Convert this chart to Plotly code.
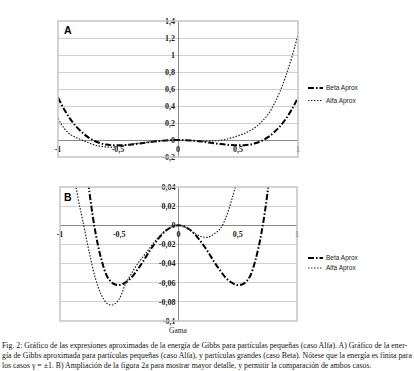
import plotly.graph_objects as go

gamma = [-1.00, -0.95, -0.90, -0.85, -0.80, -0.75, -0.70, -0.65, -0.60, -0.55, -0.50,
         -0.45, -0.40, -0.35, -0.30, -0.25, -0.20, -0.15, -0.10, -0.05, 0.00,
         0.05, 0.10, 0.15, 0.20, 0.25, 0.30, 0.35, 0.40, 0.45, 0.50,
         0.55, 0.60, 0.65, 0.70, 0.75, 0.80, 0.85, 0.90, 0.95, 1.00]

beta = [0.500, 0.364, 0.251, 0.161, 0.090, 0.033, -0.008, -0.036, -0.054, -0.061, -0.0625,
        -0.060, -0.055, -0.047, -0.038, -0.028, -0.019, -0.011, -0.005, -0.0013, 0.000,
        -0.0013, -0.005, -0.011, -0.019, -0.028, -0.038, -0.047, -0.055, -0.060, -0.0625,
        -0.061, -0.054, -0.036, -0.008, 0.033, 0.090, 0.161, 0.251, 0.364, 0.500]

alfa = [0.255, 0.140, 0.068, 0.030, 0.000, -0.030, -0.056, -0.073, -0.082, -0.083, -0.077,
        -0.062, -0.051, -0.041, -0.033, -0.025, -0.017, -0.010, -0.0045, -0.0012, 0.000,
        -0.0015, -0.0055, -0.0095, -0.012, -0.0125, -0.009, -0.004, 0.008, 0.027, 0.050,
        0.075, 0.110, 0.155, 0.220, 0.300, 0.420, 0.570, 0.760, 0.980, 1.240]

series_names = ["Beta Aprox", "Alfa Aprox"]
x_ticks = [-1, -0.5, 0, 0.5, 1]
x_labels = ["-1", "-0,5", "0", "0,5", "1"]
ya_ticks = [-0.2, 0, 0.2, 0.4, 0.6, 0.8, 1.0, 1.2, 1.4]
ya_labels = ["-0,2", "0", "0,2", "0,4", "0,6", "0,8", "1", "1,2", "1,4"]
yb_ticks = [-0.1, -0.08, -0.06, -0.04, -0.02, 0, 0.02, 0.04]
yb_labels = ["-0,1", "-0,08", "-0,06", "-0,04", "-0,02", "0", "0,02", "0,04"]

W, H = 414, 371
def px(x):
    return x / W
def py(y):
    return 1 - y / H

beta_style = dict(color="black", width=2, dash="6px,2px,1.5px,2px")
alfa_style = dict(color="#222222", width=1.2, dash="1.5px,1.5px")
styles = [beta_style, alfa_style]

fig = go.Figure()
for xa, ya in (("x", "y"), ("x2", "y2")):
    for name, vals, st in zip(series_names, [beta, alfa], styles):
        fig.add_trace(go.Scatter(x=gamma, y=vals, mode="lines", name=name, line=st,
                                 line_shape="spline", xaxis=xa, yaxis=ya, showlegend=False,
                                 hoverinfo="skip"))

tickfont = dict(family="Liberation Serif", size=8, color="#1a1a1a", weight="bold")
grid = "#d0d0d0"
axisc = "#8a8a8a"

axl, axr, aty, aby = 58, 298, 21, 157
bxl, bxr, bty, bby = 60, 297, 187, 321
y0a = aty + (aby - aty) * 1.4 / 1.6
y0b = bty + (bby - bty) * 0.04 / 0.14

def xax(dom, pos):
    return dict(domain=dom, range=[-1, 1], anchor="free", position=pos, color="#1a1a1a",
                tickvals=x_ticks, ticktext=x_labels, tickfont=tickfont, showgrid=False,
                zeroline=True, zerolinecolor=axisc, zerolinewidth=1, showline=False, ticks="",
                ticklabelstandoff=3, fixedrange=True)

def yax(dom, rng, pos, tv, tt):
    return dict(domain=dom, range=rng, anchor="free", position=pos, color="#1a1a1a",
                tickvals=tv, ticktext=tt, tickfont=tickfont, showgrid=True,
                gridcolor=grid, gridwidth=1, zeroline=True, zerolinecolor=axisc, zerolinewidth=1,
                showline=False, ticks="", ticklabelstandoff=3, fixedrange=True)

fig.update_layout(
    template="none",
    width=W, height=H,
    margin=dict(l=0, r=0, t=0, b=0),
    paper_bgcolor="white", plot_bgcolor="white",
    showlegend=False,
    hovermode=False,
    xaxis=xax([px(axl), px(axr)], py(y0a)),
    yaxis=yax([py(aby), py(aty)], [-0.2, 1.4], px((axl + axr) / 2), ya_ticks, ya_labels),
    xaxis2=xax([px(bxl), px(bxr)], py(y0b)),
    yaxis2=yax([py(bby), py(bty)], [-0.1, 0.04], px((bxl + bxr) / 2), yb_ticks, yb_labels),
)

for xr, yr in (("x domain", "y domain"), ("x2 domain", "y2 domain")):
    fig.add_shape(type="rect", xref=xr, yref=yr, x0=0, x1=1, y0=0, y1=1,
                  line=dict(color="#c4c4c4", width=1.5), layer="above")

# legends (sample line + label) for both panels
legend_rows = [(88, 100.5), (258, 268)]
for rows in legend_rows:
    for name, st, yy in zip(series_names, styles, rows):
        fig.add_shape(type="line", xref="paper", yref="paper", x0=px(308), x1=px(323),
                      y0=py(yy), y1=py(yy), line=st)
        fig.add_annotation(text=name, xref="paper", yref="paper", x=px(324), y=py(yy),
                           xanchor="left", yanchor="middle", showarrow=False,
                           font=dict(family="Liberation Sans", size=6.5, color="#222222"))

fig.add_annotation(text="<b>A</b>", xref="paper", yref="paper", x=px(68), y=py(30),
                   xanchor="center", yanchor="middle", showarrow=False,
                   font=dict(family="Liberation Sans", size=10.5, color="black"))
fig.add_annotation(text="<b>B</b>", xref="paper", yref="paper", x=px(68), y=py(197),
                   xanchor="center", yanchor="middle", showarrow=False,
                   font=dict(family="Liberation Sans", size=10.5, color="black"))
fig.add_annotation(text="Gama", xref="paper", yref="paper", x=px(178), y=py(330),
                   xanchor="center", yanchor="middle", showarrow=False,
                   font=dict(family="Liberation Serif", size=7.5, color="#222222"))

caption = [
    "Fig. 2: Gráfico de las expresiones aproximadas de la energía de Gibbs para partículas pequeñas (caso Alfa). A) Gráfico de la ener-",
    "gía de Gibbs aproximada para partículas pequeñas (caso Alfa), y partículas grandes (caso Beta). Nótese que la energía es finita para",
    "los casos γ = ±1. B) Ampliación de la figura 2a para mostrar mayor detalle, y permitir la comparación de ambos casos.",
]
for i, line in enumerate(caption):
    fig.add_annotation(text=line, xref="paper", yref="paper", x=0, y=py(345.5 + 10 * i),
                       xanchor="left", yanchor="middle", showarrow=False,
                       font=dict(family="Liberation Serif", size=7.8, color="#111111"))

fig.write_html("out.html", config={"displayModeBar": False, "staticPlot": True},
               post_script="document.body.style.margin='0px';")
